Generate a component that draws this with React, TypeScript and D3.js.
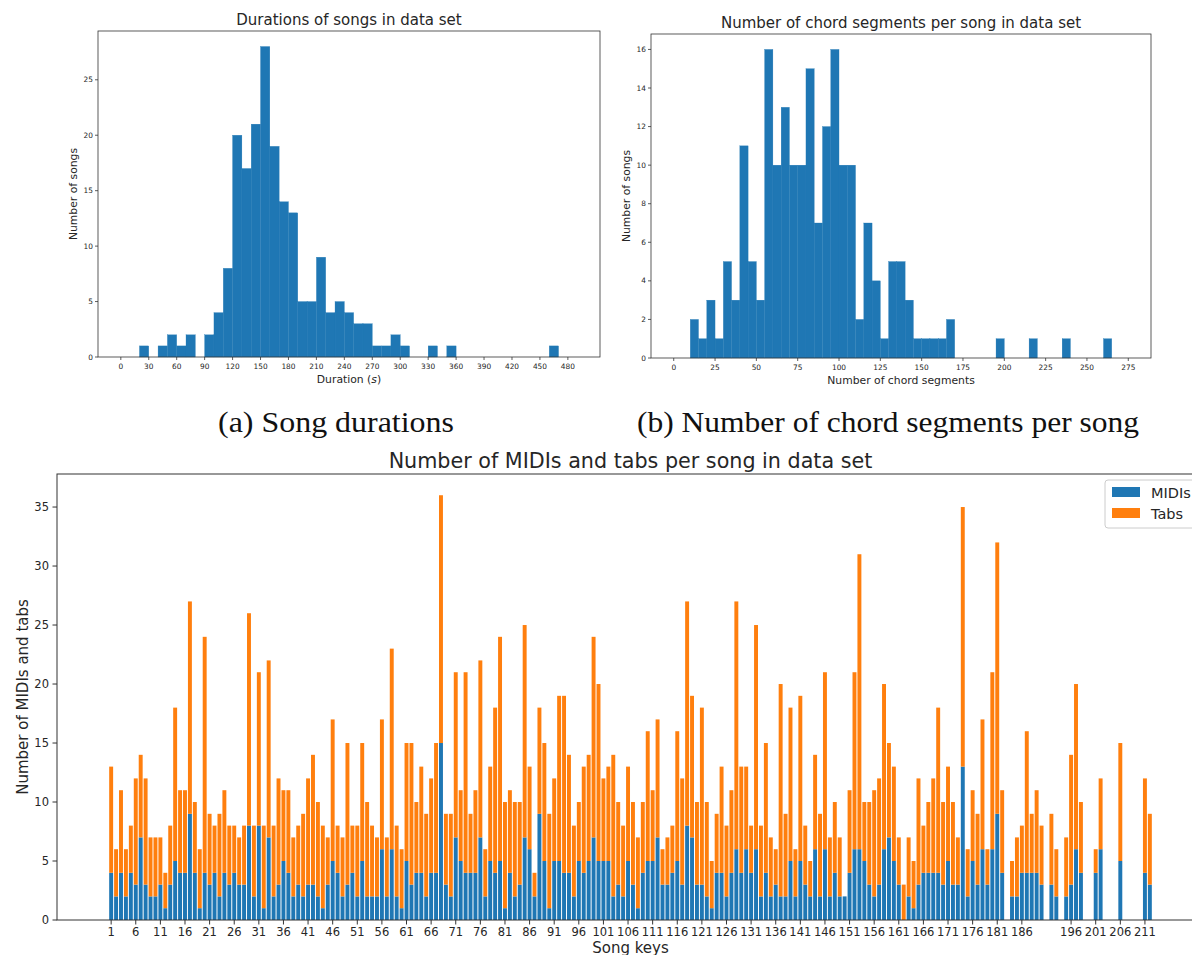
import React from 'react';
import * as d3 from 'd3';

// ---------- Data ----------
// Song durations histogram, bins of 10 s starting at 0
const durationBinWidth = 10;
const durationCounts = [
  0, 0, 1, 0, 1, 2, 1, 2, 0, 2,
  4, 8, 20, 17, 21, 28, 19, 14, 13, 5,
  5, 9, 4, 5, 4, 3, 3, 1, 1, 2,
  1, 0, 0, 1, 0, 1, 0, 0, 0, 0,
  0, 0, 0, 0, 0, 0, 1, 0, 0,
];
const durationTicks = [0, 30, 60, 90, 120, 150, 180, 210, 240, 270, 300, 330, 360, 390, 420, 450, 480];
const durationYTicks = [0, 5, 10, 15, 20, 25];

// Chord segments histogram, bins of 5 starting at 0
const chordBinWidth = 5;
const chordCounts = [
  0, 0, 2, 1, 3, 1, 5, 3, 11, 5,
  3, 16, 10, 13, 10, 10, 15, 7, 12, 16,
  10, 10, 2, 7, 4, 1, 5, 5, 3, 1,
  1, 1, 1, 2, 0, 0, 0, 0, 0, 1,
  0, 0, 0, 1, 0, 0, 0, 1, 0, 0,
  0, 0, 1, 0, 0,
];
const chordTicks = [0, 25, 50, 75, 100, 125, 150, 175, 200, 225, 250, 275];
const chordYTicks = [0, 2, 4, 6, 8, 10, 12, 14, 16];

// MIDIs and tabs per song key (keys 1..212)
const midis = [
  4, 2, 4, 2, 4, 3, 7, 3, 2, 2,
  3, 1, 3, 5, 4, 4, 9, 4, 1, 4,
  3, 4, 2, 4, 3, 4, 3, 3, 8, 2,
  8, 1, 7, 2, 3, 5, 4, 2, 3, 2,
  3, 3, 2, 1, 3, 5, 4, 2, 3, 4,
  2, 5, 2, 2, 2, 6, 2, 6, 2, 1,
  5, 3, 4, 4, 2, 4, 4, 15, 3, 2,
  7, 5, 4, 4, 4, 7, 2, 5, 4, 5,
  1, 4, 2, 3, 7, 6, 2, 9, 5, 1,
  5, 5, 4, 4, 2, 5, 4, 5, 7, 5,
  5, 5, 2, 3, 2, 5, 3, 1, 4, 5,
  5, 7, 3, 3, 4, 5, 3, 8, 7, 3,
  3, 2, 1, 4, 4, 2, 4, 6, 4, 6,
  4, 6, 2, 4, 2, 3, 2, 2, 5, 2,
  5, 3, 2, 6, 2, 6, 2, 4, 2, 2,
  4, 6, 6, 5, 3, 2, 3, 6, 7, 5,
  3, 0, 2, 1, 3, 4, 4, 4, 4, 3,
  5, 3, 3, 13, 2, 5, 3, 6, 3, 6,
  9, 4, 0, 2, 2, 4, 4, 4, 4, 3,
  0, 3, 2, 0, 2, 3, 6, 4, 0, 0,
  4, 6, 0, 0, 0, 5, 0, 0, 0, 0,
  4, 3,
];
const tabs = [
  9, 4, 7, 4, 4, 9, 7, 9, 5, 5,
  4, 3, 5, 13, 7, 7, 18, 6, 5, 20,
  6, 4, 7, 7, 5, 4, 4, 5, 18, 6,
  13, 7, 15, 6, 9, 6, 7, 5, 5, 7,
  9, 11, 8, 7, 4, 12, 4, 5, 12, 4,
  6, 10, 8, 6, 5, 11, 5, 17, 6, 5,
  10, 12, 6, 9, 7, 8, 11, 21, 6, 7,
  14, 6, 17, 5, 7, 15, 4, 8, 14, 19,
  9, 7, 8, 7, 18, 7, 2, 9, 10, 8,
  7, 14, 15, 10, 6, 5, 9, 9, 17, 15,
  7, 8, 12, 7, 6, 8, 7, 6, 6, 11,
  6, 10, 3, 4, 4, 11, 9, 19, 12, 7,
  15, 8, 4, 5, 9, 6, 7, 21, 9, 7,
  4, 19, 6, 11, 5, 3, 18, 7, 13, 4,
  14, 5, 3, 8, 7, 15, 5, 6, 5, 0,
  7, 15, 25, 5, 7, 9, 9, 14, 8, 8,
  4, 3, 5, 4, 9, 4, 6, 8, 14, 7,
  8, 7, 4, 22, 4, 6, 6, 11, 3, 15,
  23, 7, 0, 3, 5, 4, 12, 5, 7, 5,
  0, 6, 4, 0, 5, 11, 14, 6, 0, 0,
  2, 6, 0, 0, 0, 10, 0, 0, 0, 0,
  8, 6,
];
const songKeys = d3.range(1, midis.length + 1);
const keyTicks = [1, 6, 11, 16, 21, 26, 31, 36, 41, 46, 51, 56, 61, 66, 71, 76, 81, 86, 91, 96, 101, 106, 111, 116, 121, 126, 131, 136, 141, 146, 151, 156, 161, 166, 171, 176, 181, 186, 196, 201, 206, 211];
const countYTicks = [0, 5, 10, 15, 20, 25, 30, 35];

const BLUE = '#1f77b4';
const ORANGE = '#ff7f0e';
const TXT = '#262626';
const FONT = 'DejaVu Sans, sans-serif';

type HistProps = {
  counts: number[];
  binWidth: number;
  xDomain: [number, number];
  yMax: number;
  box: { x0: number; x1: number; y0: number; y1: number };
  xTicks: number[];
  yTicks: number[];
  title: string;
  xLabel: React.ReactNode;
  yLabel: string;
};

function Histogram({ counts, binWidth, xDomain, yMax, box, xTicks, yTicks, title, xLabel, yLabel }: HistProps) {
  const x = d3.scaleLinear().domain(xDomain).range([box.x0, box.x1]);
  const y = d3.scaleLinear().domain([0, yMax]).range([box.y1, box.y0]);
  const cx = (box.x0 + box.x1) / 2;
  const cy = (box.y0 + box.y1) / 2;
  return (
    <g>
      {counts.map((c, i) =>
        c > 0 ? (
          <rect
            key={i}
            x={x(i * binWidth)}
            y={y(c)}
            width={x((i + 1) * binWidth) - x(i * binWidth)}
            height={y(0) - y(c)}
            fill={BLUE}
            stroke={BLUE}
            strokeWidth={0.3}
          />
        ) : null
      )}
      <rect x={box.x0} y={box.y0} width={box.x1 - box.x0} height={box.y1 - box.y0} fill="none" stroke="#333" strokeWidth={0.8} />
      {xTicks.map((t) => (
        <g key={t} transform={`translate(${x(t)},${box.y1})`}>
          <line y2={3} stroke="#333" strokeWidth={0.8} />
          <text y={11.5} textAnchor="middle" fontSize={7.4} fill={TXT} fontFamily={FONT}>{t}</text>
        </g>
      ))}
      {yTicks.map((t) => (
        <g key={t} transform={`translate(${box.x0},${y(t)})`}>
          <line x2={-3} stroke="#333" strokeWidth={0.8} />
          <text x={-5} dy="0.35em" textAnchor="end" fontSize={7.4} fill={TXT} fontFamily={FONT}>{t}</text>
        </g>
      ))}
      <text x={cx} y={box.y0 - 6} textAnchor="middle" fontSize={15} fill={TXT} fontFamily={FONT}>{title}</text>
      <text x={cx} y={box.y1 + 26} textAnchor="middle" fontSize={10.8} fill={TXT} fontFamily={FONT}>{xLabel}</text>
      <text transform={`translate(${box.x0 - 21},${cy}) rotate(-90)`} textAnchor="middle" fontSize={10.8} fill={TXT} fontFamily={FONT}>{yLabel}</text>
    </g>
  );
}

function StackedBars() {
  const box = { x0: 57, x1: 1204, y0: 474, y1: 920 };
  const x = d3.scaleLinear().domain([-10, 223]).range([box.x0, box.x1]);
  const y = d3.scaleLinear().domain([0, 37.8]).range([box.y1, box.y0]);
  const bw = x(0.8) - x(0);
  return (
    <g>
      {songKeys.map((k, i) => (
        <g key={k}>
          {midis[i] > 0 && (
            <rect x={x(k - 0.4)} y={y(midis[i])} width={bw} height={y(0) - y(midis[i])} fill={BLUE} />
          )}
          {tabs[i] > 0 && (
            <rect x={x(k - 0.4)} y={y(midis[i] + tabs[i])} width={bw} height={y(midis[i]) - y(midis[i] + tabs[i])} fill={ORANGE} />
          )}
        </g>
      ))}
      <rect x={box.x0} y={box.y0} width={box.x1 - box.x0} height={box.y1 - box.y0} fill="none" stroke="#333" strokeWidth={1} />
      {keyTicks.map((t) => (
        <g key={t} transform={`translate(${x(t)},${box.y1})`}>
          <line y2={4.5} stroke="#333" strokeWidth={1} />
          <text y={16} textAnchor="middle" fontSize={11.5} fill={TXT} fontFamily={FONT}>{t}</text>
        </g>
      ))}
      {countYTicks.map((t) => (
        <g key={t} transform={`translate(${box.x0},${y(t)})`}>
          <line x2={-4.5} stroke="#333" strokeWidth={1} />
          <text x={-8} dy="0.35em" textAnchor="end" fontSize={11.5} fill={TXT} fontFamily={FONT}>{t}</text>
        </g>
      ))}
      <text x={(box.x0 + box.x1) / 2} y={box.y0 - 6} textAnchor="middle" fontSize={20.7} fill={TXT} fontFamily={FONT}>
        Number of MIDIs and tabs per song in data set
      </text>
      <text x={(box.x0 + box.x1) / 2} y={box.y1 + 32.5} textAnchor="middle" fontSize={15} fill={TXT} fontFamily={FONT}>Song keys</text>
      <text transform={`translate(28,${(box.y0 + box.y1) / 2}) rotate(-90)`} textAnchor="middle" fontSize={15} fill={TXT} fontFamily={FONT}>
        Number of MIDIs and tabs
      </text>
      <g>
        <rect x={1105} y={480} width={100} height={48} rx={3} fill="#fff" fillOpacity={0.8} stroke="#ccc" strokeWidth={1} />
        <rect x={1112} y={487} width={28} height={10} fill={BLUE} />
        <rect x={1112} y={508} width={28} height={10} fill={ORANGE} />
        <text x={1151} y={497.5} fontSize={14.5} fill={TXT} fontFamily={FONT}>MIDIs</text>
        <text x={1151} y={518.5} fontSize={14.5} fill={TXT} fontFamily={FONT}>Tabs</text>
      </g>
    </g>
  );
}

export default function App() {
  return (
    <svg width={1192} height={955} style={{ position: 'absolute', left: 0, top: 0, background: '#fff' }} xmlns="http://www.w3.org/2000/svg">
      <rect width={1192} height={955} fill="#fff" />
      <Histogram
        counts={durationCounts}
        binWidth={durationBinWidth}
        xDomain={[-24.5, 514.5]}
        yMax={29.4}
        box={{ x0: 98, x1: 600, y0: 31, y1: 357 }}
        xTicks={durationTicks}
        yTicks={durationYTicks}
        title="Durations of songs in data set"
        xLabel={<>Duration (<tspan fontStyle="italic">s</tspan>)</>}
        yLabel="Number of songs"
      />
      <Histogram
        counts={chordCounts}
        binWidth={chordBinWidth}
        xDomain={[-13.75, 288.75]}
        yMax={16.8}
        box={{ x0: 651, x1: 1151, y0: 34, y1: 358 }}
        xTicks={chordTicks}
        yTicks={chordYTicks}
        title="Number of chord segments per song in data set"
        xLabel="Number of chord segments"
        yLabel="Number of songs"
      />
      <text x={336} y={432} textAnchor="middle" fontSize={29} fill="#111" fontFamily="Liberation Serif, serif"
        textLength={236} lengthAdjust="spacingAndGlyphs">(a) Song durations</text>
      <text x={888} y={432} textAnchor="middle" fontSize={29} fill="#111" fontFamily="Liberation Serif, serif"
        textLength={502} lengthAdjust="spacingAndGlyphs">(b) Number of chord segments per song</text>
      <StackedBars />
    </svg>
  );
}
